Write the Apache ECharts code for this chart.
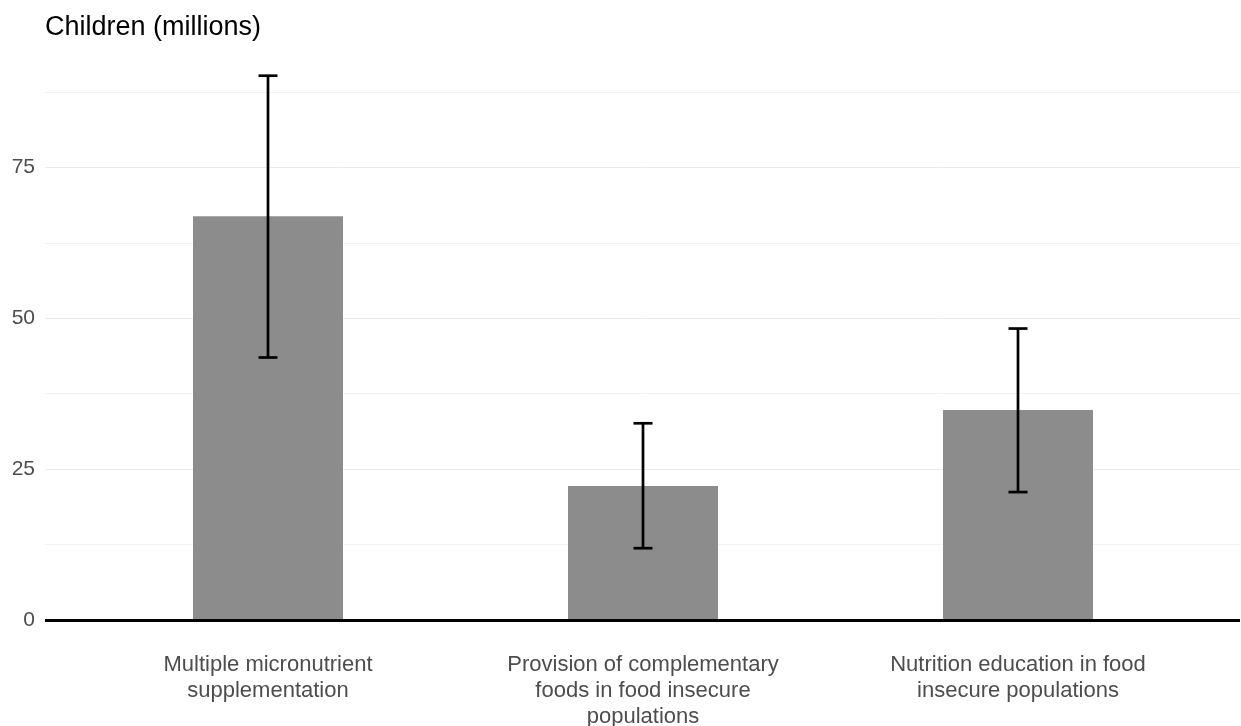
<!DOCTYPE html>
<html>
<head>
<meta charset="utf-8">
<script src="https://cdn.jsdelivr.net/npm/echarts@6/dist/echarts.min.js"></script>
<style>html,body{margin:0;padding:0;background:#fff}#c{width:1241px;height:726px}</style>
</head>
<body>
<div id="c"></div>
<script>
const categories = [
  "Multiple micronutrient\nsupplementation",
  "Provision of complementary\nfoods in food insecure\npopulations",
  "Nutrition education in food\ninsecure populations"
];
const values = [66.9, 22.2, 34.8];
const lower = [43.5, 11.9, 21.2];
const upper = [90.2, 32.6, 48.3];
const yTicks = [0, 25, 50, 75];

const chart = echarts.init(document.getElementById('c'), null, {renderer: 'canvas'});
const font = "Liberation Sans, Arial, sans-serif";
const yBase = {type: 'value', min: 0, max: 87.5, interval: 12.5};
chart.setOption({
  animation: false,
  backgroundColor: '#fff',
  title: {
    text: 'Children (millions)',
    left: 40, top: 9,
    textStyle: {fontFamily: font, fontSize: 27, fontWeight: 'normal', color: '#000'}
  },
  grid: [
    {left: 45, right: 1, top: 92, bottom: 106, containLabel: false, outerBoundsMode: 'none'},
    {left: 80.5, right: 35.5, top: 92, bottom: 106, containLabel: false, outerBoundsMode: 'none'}
  ],
  xAxis: [
    {
      gridIndex: 0,
      type: 'category',
      data: categories,
      axisLine: {show: false},
      axisTick: {show: false},
      axisLabel: {show: false},
      splitLine: {show: false}
    },
    {
      gridIndex: 1,
      type: 'category',
      data: categories,
      axisLine: {show: false},
      axisTick: {show: false},
      splitLine: {show: false},
      axisLabel: {fontFamily: font, fontSize: 22, color: '#4d4d4d', margin: 32, lineHeight: 26, interval: 0}
    }
  ],
  yAxis: [
    Object.assign({}, yBase, {
      gridIndex: 0,
      axisLine: {show: false},
      axisTick: {show: false},
      splitLine: {show: true, lineStyle: {color: ['#ebebeb', '#f3f3f3'], width: 1}},
      axisLabel: {
        fontFamily: font, fontSize: 21, color: '#4d4d4d', margin: 10, padding: [3, 0, 0, 0],
        formatter: v => yTicks.includes(v) ? String(v) : ''
      }
    }),
    Object.assign({}, yBase, {
      gridIndex: 1,
      show: false,
      splitLine: {show: false}
    })
  ],
  series: [
    {
      type: 'line',
      xAxisIndex: 0, yAxisIndex: 0,
      data: [],
      markLine: {
        silent: true,
        symbol: 'none',
        label: {show: false},
        lineStyle: {color: '#000', width: 3, type: 'solid'},
        data: [{yAxis: 0}]
      },
      z: 6
    },
    {
      type: 'bar',
      xAxisIndex: 1, yAxisIndex: 1,
      data: values,
      barWidth: '40%',
      itemStyle: {color: '#8c8c8c'},
      z: 2
    },
    {
      type: 'custom',
      xAxisIndex: 1, yAxisIndex: 1,
      clip: false,
      z: 5,
      data: categories.map((c, i) => [i, lower[i], upper[i]]),
      renderItem: function (params, api) {
        const x = api.value(0);
        const lo = api.coord([x, api.value(1)]);
        const hi = api.coord([x, api.value(2)]);
        const hw = 9.5;
        const style = {stroke: '#000', lineWidth: 2.7, fill: null};
        return {
          type: 'group',
          children: [
            {type: 'line', shape: {x1: lo[0], y1: lo[1], x2: hi[0], y2: hi[1]}, style: style},
            {type: 'line', shape: {x1: lo[0] - hw, y1: lo[1], x2: lo[0] + hw, y2: lo[1]}, style: style},
            {type: 'line', shape: {x1: hi[0] - hw, y1: hi[1], x2: hi[0] + hw, y2: hi[1]}, style: style}
          ]
        };
      }
    }
  ]
});
</script>
</body>
</html>
